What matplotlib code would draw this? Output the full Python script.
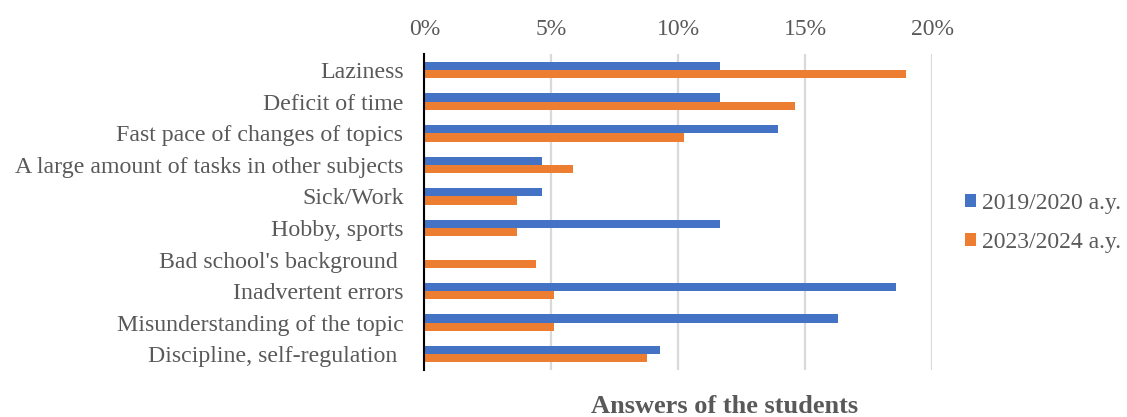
import matplotlib
matplotlib.use("Agg")
import matplotlib.pyplot as plt
import numpy as np
from matplotlib.ticker import FuncFormatter

categories = ["Laziness", "Deficit of time", "Fast pace of changes of topics",
              "A large amount of tasks in other subjects", "Sick/Work", "Hobby, sports",
              "Bad school's background ", "Inadvertent errors",
              "Misunderstanding of the topic", "Discipline, self-regulation "]
y2019 = [11.63, 11.63, 13.95, 4.65, 4.65, 11.63, 0.0, 18.60, 16.28, 9.30]
y2023 = [18.98, 14.60, 10.22, 5.84, 3.65, 3.65, 4.38, 5.11, 5.11, 8.76]
series_labels = ["2019/2020 a.y.", "2023/2024 a.y."]
xticks = [0, 5, 10, 15, 20]

plt.rcParams['font.family'] = ['Liberation Serif', 'DejaVu Serif']
gray = "#595959"
blue = "#4472C4"
orange = "#ED7D31"

fig = plt.figure(figsize=(11.27, 4.17), dpi=100)
ax = fig.add_axes([0.3765, 0.1127, 0.4505, 0.757])

y = np.arange(len(categories))
h = 0.262
b1 = ax.barh(y - h/2, y2019, height=h, color=blue, label=series_labels[0], zorder=3)
b2 = ax.barh(y + h/2, y2023, height=h, color=orange, label=series_labels[1], zorder=3)

ax.set_ylim(len(categories) - 0.5, -0.5)
ax.set_xlim(0, 20)
ax.set_xticks(xticks)
ax.xaxis.set_major_formatter(FuncFormatter(lambda v, p: f"{v:.0f}%"))
ax.xaxis.tick_top()
ax.tick_params(axis='x', length=0, labelsize=17, colors=gray, pad=10)
ax.set_yticks(y)
ax.set_yticklabels(categories)
ax.tick_params(axis='y', length=0, labelsize=17.2, colors=gray, pad=15)
ax.grid(axis='x', color="#D9D9D9", linewidth=1.6, zorder=0)
for s in ['top', 'right', 'bottom']:
    ax.spines[s].set_visible(False)
ax.spines['left'].set_color('black')
ax.spines['left'].set_linewidth(1.5)
ax.spines['left'].set_zorder(4)

leg = fig.legend(handles=[b1, b2], loc='center left', bbox_to_anchor=(0.837, 0.466),
                 frameon=False, fontsize=17, labelspacing=0.76, handlelength=0.5,
                 handleheight=0.5, handletextpad=0.25)
for t in leg.get_texts():
    t.set_color(gray)

fig.text(0.643, 0.024, "Answers of the students", ha='center', va='center',
         fontsize=19, fontweight='bold', color=gray)

fig.savefig("out.png", dpi=100)
